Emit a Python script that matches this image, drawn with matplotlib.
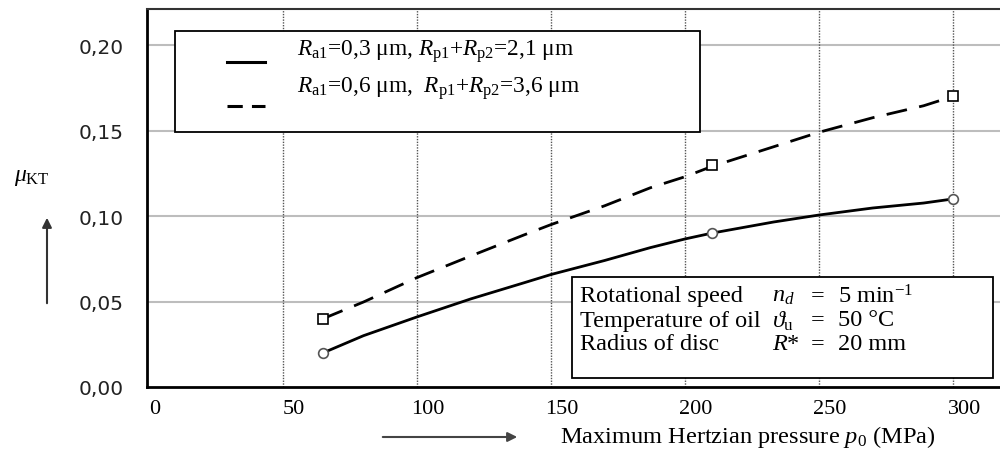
import matplotlib
matplotlib.use('Agg')
import matplotlib.pyplot as plt
import matplotlib.transforms as mtransforms
from matplotlib.lines import Line2D
from matplotlib.patches import Rectangle, FancyArrowPatch

plt.rcParams['mathtext.fontset'] = 'custom'
plt.rcParams['mathtext.rm'] = 'Liberation Serif'
plt.rcParams['mathtext.it'] = 'Liberation Serif:italic'

# measured points (markers)
p_meas = [65, 210, 300]
mu_smooth_meas = [0.020, 0.090, 0.110]
mu_rough_meas = [0.040, 0.130, 0.170]

# points
p_curve = [65, 80, 100, 120, 140, 150, 170, 187, 200, 210, 233, 250, 270, 289, 300]
mu_smooth_curve = [0.020, 0.030, 0.041, 0.0515, 0.061, 0.0658, 0.074, 0.0815, 0.0866,
                   0.090, 0.0965, 0.1006, 0.1047, 0.1076, 0.110]
mu_rough_curve = [0.040, 0.0497, 0.064, 0.0766, 0.089, 0.095, 0.106, 0.1165, 0.123,
                  0.129, 0.1405, 0.149, 0.1575, 0.1645, 0.170]

x_ticks = [0, 50, 100, 150, 200, 250, 300]
y_ticks = [0.00, 0.05, 0.10, 0.15, 0.20]
y_ticklabels = ['0,00', '0,05', '0,10', '0,15', '0,20']

legend_labels = [r'$R_{\mathrm{a1}}$=0,3 μm, $R_{\mathrm{p1}}$+$R_{\mathrm{p2}}$=2,1 μm',
                 r'$R_{\mathrm{a1}}$=0,6 μm,  $R_{\mathrm{p1}}$+$R_{\mathrm{p2}}$=3,6 μm']
info_names = ['Rotational speed', 'Temperature of oil', 'Radius of disc']
info_symbols = [r'$n_d$', r'$\vartheta_{\mathrm{u}}$', r'$R$*']
info_values = [r'5 min$^{\mathrm{-1}}$', '50 °C', '20 mm']

SERIF = 'Liberation Serif'


def fx(px):
    return px / 1000.0


def fy(py):
    return 1 - py / 452.0


fig = plt.figure(figsize=(10, 4.52), dpi=100)
ax = fig.add_axes([0.147, 0.1416, 0.853, 0.8363])

# grid
for y in y_ticks[1:]:
    ax.axhline(y, color='#bdbdbd', lw=1.5, zorder=0)
for x in x_ticks[1:]:
    ax.axvline(x, color='#555555', lw=1, ls=(0, (1, 1)), zorder=0)

# curves
ax.plot(p_curve, mu_smooth_curve, color='black', lw=2, zorder=3)
ax.plot(p_curve, mu_rough_curve, color='black', lw=2, dashes=(7.5, 4.5), zorder=3)
ax.plot(p_meas, mu_smooth_meas, ls='none', marker='o', ms=7, mfc='white',
        mec='#555555', mew=1.2, zorder=4)
ax.plot(p_meas, mu_rough_meas, ls='none', marker='s', ms=7, mfc='white',
        mec='black', mew=1.2, zorder=4)

ax.set_xlim(-0.75, 317.5)
ax.set_ylim(0, 0.2211)

ax.set_xticks(x_ticks)
ax.set_xticklabels([str(v) for v in x_ticks], fontfamily=SERIF, fontsize=16)
ax.set_yticks(y_ticks)
ax.set_yticklabels(y_ticklabels, fontfamily='DejaVu Sans', fontsize=14.5, color='#222222')
ax.tick_params(axis='both', length=0)
ax.tick_params(axis='x', pad=9)
ax.tick_params(axis='y', pad=17)
offset = mtransforms.ScaledTranslation(0.11, 0, fig.dpi_scale_trans)
for lab in ax.get_xticklabels()[1:]:
    lab.set_transform(lab.get_transform() + offset)
lab0 = ax.get_xticklabels()[0]
lab0.set_transform(lab0.get_transform() + mtransforms.ScaledTranslation(0.06, 0, fig.dpi_scale_trans))

ax.spines['right'].set_visible(False)
ax.spines['left'].set_linewidth(2)
ax.spines['bottom'].set_linewidth(2)
ax.spines['top'].set_linewidth(1.5)
ax.spines['top'].set_color('#333333')

# legend box
fig.add_artist(Rectangle((fx(175), fy(133)), fx(700) - fx(175), fy(32) - fy(133),
                         transform=fig.transFigure, fc='white', ec='black', lw=1.3, zorder=5))
fig.add_artist(Line2D([fx(227), fx(265)], [fy(63), fy(63)], transform=fig.transFigure,
                      color='black', lw=2.2, zorder=6))
fig.add_artist(Line2D([fx(227), fx(265)], [fy(107), fy(107)], transform=fig.transFigure,
                      color='black', lw=2.2, dashes=(5, 3), zorder=6))
for lab, py in zip(legend_labels, [52, 89]):
    fig.text(fx(297), fy(py), lab, fontfamily=SERIF, fontsize=16.8, va='center', ha='left', zorder=6)

# info box
fig.add_artist(Rectangle((fx(572), fy(379)), fx(993) - fx(572), fy(278) - fy(379),
                         transform=fig.transFigure, fc='white', ec='black', lw=1.3, zorder=5))
for name, sym, val, py in zip(info_names, info_symbols, info_values, [297, 321, 345]):
    fig.text(fx(580), fy(py), name, fontfamily=SERIF, fontsize=17.5, va='center', zorder=6)
    fig.text(fx(772), fy(py), sym, fontfamily=SERIF, fontsize=17.5, va='center', zorder=6)
    fig.text(fx(811), fy(py), '=', fontfamily=SERIF, fontsize=17.5, va='center', zorder=6)
    fig.text(fx(838), fy(py), val, fontfamily=SERIF, fontsize=17.5, va='center', zorder=6)

# axis labels with arrows
fig.text(fx(14), fy(178), r'$\mu_{\mathrm{KT}}$', fontfamily=SERIF, fontsize=17, va='center')
fig.add_artist(FancyArrowPatch((fx(47), fy(307)), (fx(47), fy(216)), transform=fig.transFigure,
                               arrowstyle='-|>', mutation_scale=14, color='#333333', lw=1.5))
fig.text(fx(560), fy(437), r'Maximum Hertzian pressure $p_{\mathrm{0}}$ (MPa)',
         fontfamily=SERIF, fontsize=17.6, va='center')
fig.add_artist(FancyArrowPatch((fx(380), fy(438)), (fx(520), fy(438)), transform=fig.transFigure,
                               arrowstyle='-|>', mutation_scale=14, color='#444444', lw=1.5))

plt.savefig('out.png', dpi=100)
